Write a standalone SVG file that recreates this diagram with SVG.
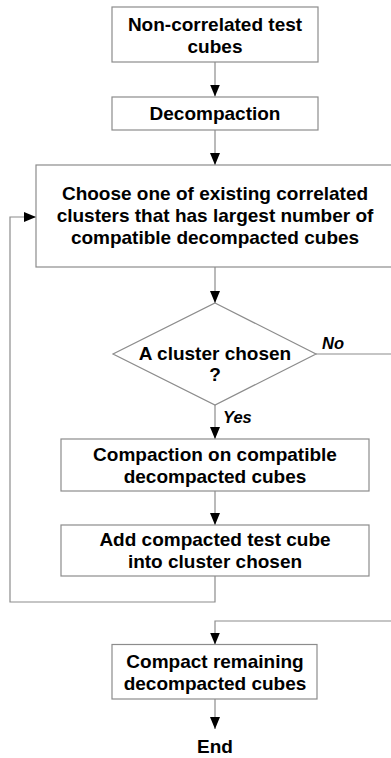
<svg xmlns="http://www.w3.org/2000/svg" width="391" height="758" viewBox="0 0 391 758">
  <style>
    .box { fill: #ffffff; stroke: #8c8c8c; stroke-width: 1.2; }
    .conn { fill: none; stroke: #8c8c8c; stroke-width: 1.2; }
    .t { font-family: "Liberation Sans", Arial, sans-serif; font-weight: bold; font-size: 19px; fill: #000000; text-anchor: middle; }
    .lbl { font-family: "Liberation Sans", Arial, sans-serif; font-weight: bold; font-style: italic; font-size: 16.5px; fill: #000000; }
  </style>
  <defs>
    <marker id="arrow" viewBox="0 0 12 10" refX="12" refY="5" markerWidth="12" markerHeight="10" markerUnits="userSpaceOnUse" orient="auto">
      <path d="M0,0 L12,5 L0,10 z" fill="#000000"/>
    </marker>
  </defs>
  <rect width="391" height="758" fill="#ffffff"/>

  <g id="connectors">
    <path class="conn" d="M215,62 V96.5" marker-end="url(#arrow)"/>
    <path class="conn" d="M215,130 V165" marker-end="url(#arrow)"/>
    <path class="conn" d="M215,267 V303" marker-end="url(#arrow)"/>
    <path class="conn" d="M316,354 H396 V621 H215 V644.5" marker-end="url(#arrow)"/>
    <path class="conn" d="M215,405 V439" marker-end="url(#arrow)"/>
    <path class="conn" d="M215,491 V525" marker-end="url(#arrow)"/>
    <path class="conn" d="M215,576 V602 H10 V217 H36" marker-end="url(#arrow)"/>
    <path class="conn" d="M215,699 V729" marker-end="url(#arrow)"/>
    <text class="lbl" x="322" y="348.5">No</text>
    <text class="lbl" x="223" y="423.3">Yes</text>
  </g>

  <g id="start">
    <rect class="box" x="112" y="7" width="206" height="55"/>
    <text class="t" x="215" y="30.7">Non-correlated test</text>
    <text class="t" x="215" y="52.5">cubes</text>
  </g>

  <g id="decompaction">
    <rect class="box" x="112" y="97" width="206" height="33"/>
    <text class="t" x="215" y="119.5">Decompaction</text>
  </g>

  <g id="choose">
    <rect class="box" x="36" y="165" width="362" height="102"/>
    <text class="t" x="215" y="199.5">Choose one of existing correlated</text>
    <text class="t" x="215" y="221.5">clusters that has largest number of</text>
    <text class="t" x="215" y="243.5">compatible decompacted cubes</text>
  </g>

  <g id="decision">
    <polygon class="box" points="215,303 316,354 215,405 113,354"/>
    <text class="t" x="215" y="359.5">A cluster chosen</text>
    <text class="t" x="215" y="381">?</text>
  </g>

  <g id="compaction">
    <rect class="box" x="61" y="439" width="308" height="52"/>
    <text class="t" x="215" y="460.5">Compaction on compatible</text>
    <text class="t" x="215" y="482.5">decompacted cubes</text>
  </g>

  <g id="add">
    <rect class="box" x="61" y="525" width="308" height="51"/>
    <text class="t" x="215" y="545.5">Add compacted test cube</text>
    <text class="t" x="215" y="567.5">into cluster chosen</text>
  </g>

  <g id="compact-remaining">
    <rect class="box" x="112" y="644.5" width="205" height="54.5"/>
    <text class="t" x="215" y="667.5">Compact remaining</text>
    <text class="t" x="215" y="690">decompacted cubes</text>
  </g>

  <g id="end">
    <text class="t" x="215" y="752.5">End</text>
  </g>
</svg>
